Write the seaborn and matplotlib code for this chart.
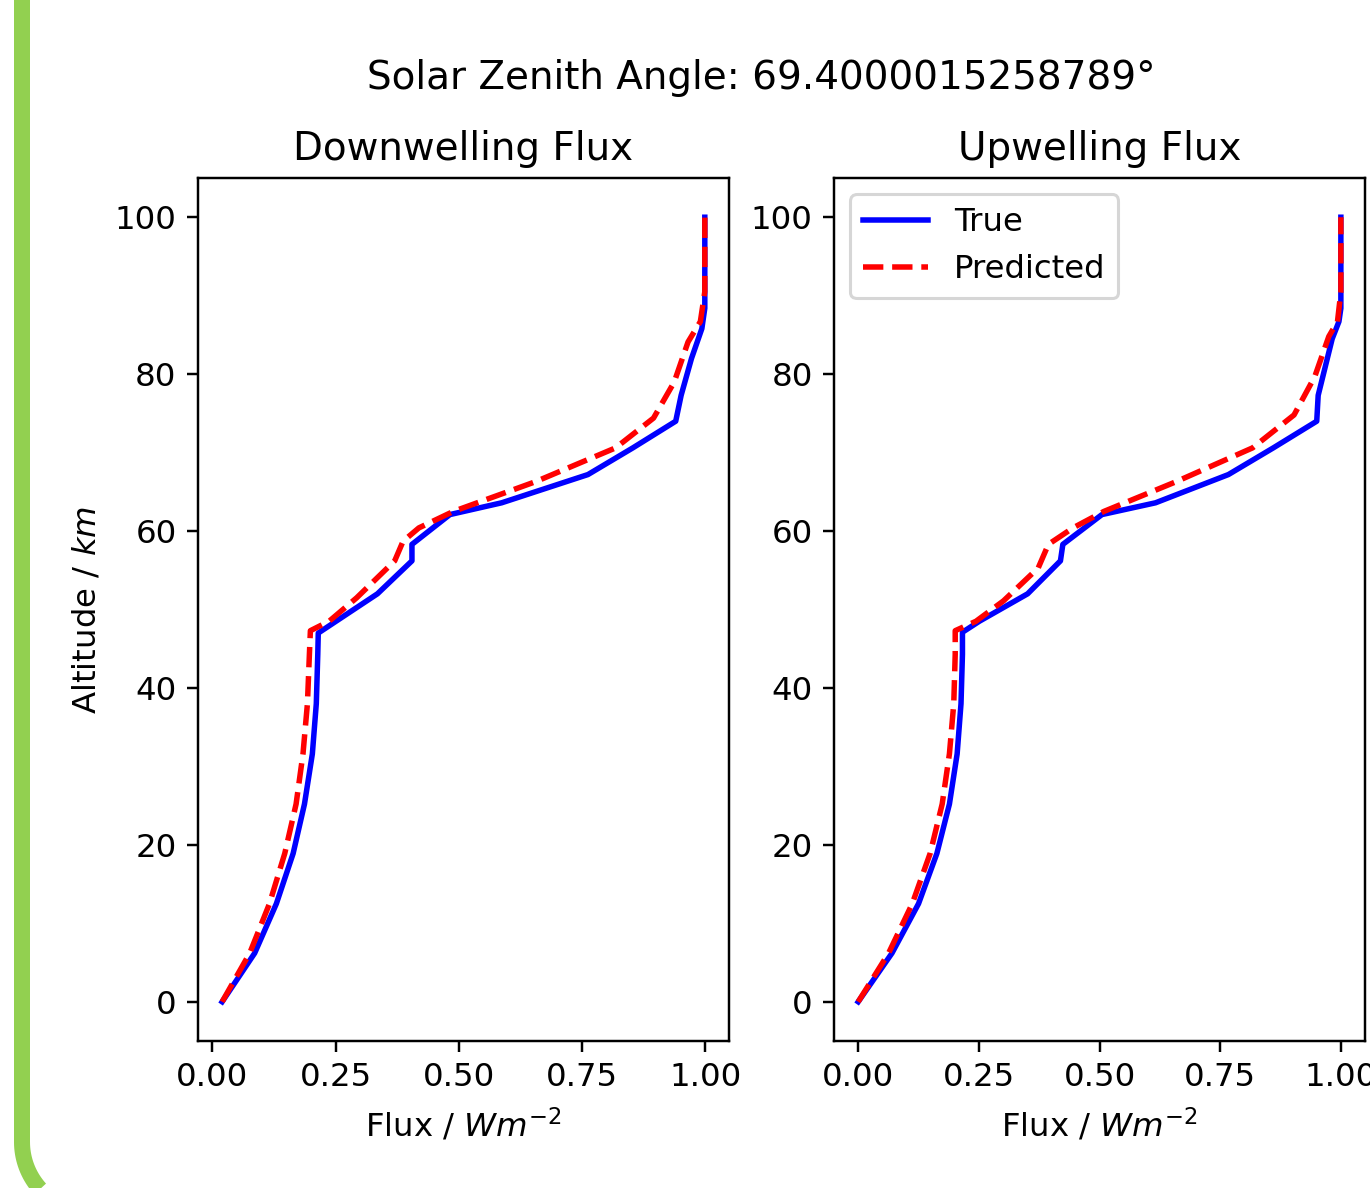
import matplotlib
matplotlib.use("Agg")
import numpy as np
import matplotlib.pyplot as plt
import seaborn as sns

# Downwelling flux profiles (flux, altitude in km)
down_true_flux = [0.020, 0.086, 0.130, 0.164, 0.187, 0.203, 0.211, 0.214, 0.215,
                  0.251, 0.335, 0.405, 0.405, 0.482, 0.587, 0.762, 0.853, 0.940,
                  0.951, 0.972, 0.993, 0.999, 0.999]
down_true_alt = [0.0, 6.2, 12.5, 18.9, 25.2, 31.6, 38.0, 44.3, 47.0,
                 48.5, 52.0, 56.2, 58.3, 62.1, 63.6, 67.2, 70.6, 74.0,
                 77.3, 82.0, 85.8, 88.4, 100.0]
down_pred_flux = [0.020, 0.076, 0.116, 0.147, 0.170, 0.184, 0.193, 0.197, 0.199,
                  0.237, 0.293, 0.370, 0.387, 0.419, 0.489, 0.656, 0.818, 0.895,
                  0.937, 0.965, 0.990, 0.999, 0.999]
down_pred_alt = [0.0, 6.2, 12.5, 18.9, 25.2, 31.6, 38.0, 44.3, 47.3,
                 48.5, 51.5, 56.2, 58.7, 60.4, 62.5, 66.3, 70.6, 74.4,
                 79.0, 84.1, 86.7, 90.5, 100.0]

# Upwelling flux profiles
up_true_flux = [0.000, 0.070, 0.125, 0.163, 0.189, 0.205, 0.213, 0.216, 0.216,
                0.251, 0.351, 0.419, 0.424, 0.505, 0.616, 0.767, 0.860, 0.950,
                0.953, 0.982, 0.996, 1.000, 1.000]
up_true_alt = [0.0, 6.2, 12.5, 18.9, 25.2, 31.6, 38.0, 44.3, 47.1,
               48.5, 52.0, 56.2, 58.3, 62.1, 63.6, 67.2, 70.6, 74.0,
               77.3, 84.5, 86.7, 88.4, 100.0]
up_pred_flux = [0.000, 0.063, 0.112, 0.149, 0.174, 0.189, 0.198, 0.201, 0.201,
                0.244, 0.301, 0.373, 0.394, 0.445, 0.509, 0.659, 0.817, 0.903,
                0.946, 0.975, 0.993, 1.000, 1.000]
up_pred_alt = [0.0, 6.2, 12.5, 18.9, 25.2, 31.6, 38.0, 44.3, 47.3,
               48.5, 51.1, 55.3, 58.3, 60.4, 62.5, 66.3, 70.6, 74.8,
               79.7, 84.8, 86.7, 90.5, 100.0]

zenith_angle = "69.4000015258789"

plt.rcParams["font.size"] = 10.6

fig, axes = plt.subplots(1, 2, figsize=(1370 / 220, 1188 / 220), dpi=220)
fig.subplots_adjust(left=198 / 1370, right=1365 / 1370, bottom=1 - 1041 / 1188,
                    top=1 - 178 / 1188, wspace=0.198)

panels = [
    ("Downwelling Flux", down_true_flux, down_true_alt, down_pred_flux, down_pred_alt),
    ("Upwelling Flux", up_true_flux, up_true_alt, up_pred_flux, up_pred_alt),
]
for ax, (title, tf, ta, pf, pa) in zip(axes, panels):
    sns.lineplot(x=tf, y=ta, sort=False, estimator=None, color="blue",
                 linewidth=1.8, ax=ax, label="True")
    sns.lineplot(x=pf, y=pa, sort=False, estimator=None, color="red", linestyle="--",
                 linewidth=1.8, ax=ax, label="Predicted")
    ax.set_title(title)
    ax.set_xlabel("Flux / $Wm^{-2}$")
    ax.set_xticks([0.0, 0.25, 0.5, 0.75, 1.0])

axes[0].set_ylabel("Altitude / $km$")
axes[0].get_legend().remove()
axes[1].legend(loc="upper left")

fig.text(761 / 1370, 1 - 78 / 1188, f"Solar Zenith Angle: {zenith_angle}\u00b0",
         ha="center", va="center", fontsize="large")

# green frame of the screenshot, drawn in pixel units
frame = fig.add_axes([0, 0, 1, 1], zorder=-1)
frame.set_xlim(0, 1370)
frame.set_ylim(1188, 0)
frame.axis("off")
r, fx, fy = 70, 22, 1212
theta = np.linspace(np.pi, np.pi / 2, 40)
path_x = np.concatenate([[fx], fx + r + r * np.cos(theta), [1500]])
path_y = np.concatenate([[-20], fy - r + r * np.sin(theta), [fy]])
frame.plot(path_x, path_y, color="#92D050", linewidth=16 * 72 / 220,
           solid_capstyle="butt", solid_joinstyle="round")

fig.savefig("out.png", dpi=220)
